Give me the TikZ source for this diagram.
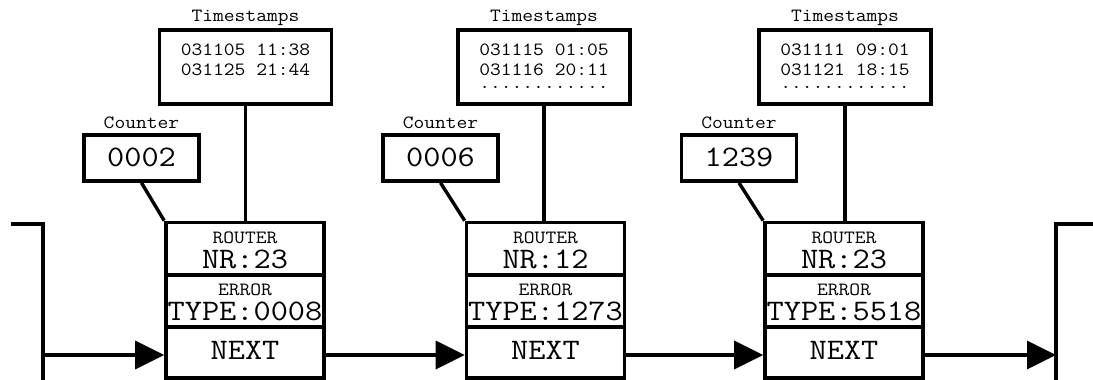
\documentclass[tikz,border=0pt]{standalone}
\usepackage{fontspec}
\setmonofont[FakeStretch=1.12]{Latin Modern Mono}
\usetikzlibrary{arrows.meta}
\newcommand\tsdots{............}
\newcommand\tsnone{}
\begin{document}
\begin{tikzpicture}[x=1pt,y=-1pt,
  box/.style={draw,line width=3.6pt,rectangle,inner sep=0pt,
    minimum width=158pt},
  tsbox/.style={draw,line width=3.6pt,rectangle,inner sep=0pt,
    minimum width=172pt,minimum height=74pt},
  cntbox/.style={draw,line width=3.6pt,rectangle,inner sep=0pt,
    minimum width=115pt,minimum height=46pt},
  small/.style={inner sep=0pt,anchor=base,text height=11.5pt,text depth=0pt,
    font=\ttfamily\fontsize{18.7}{20}\selectfont},
  big/.style={inner sep=0pt,anchor=base,text height=18pt,text depth=0pt,
    font=\ttfamily\fontsize{29.8}{32}\selectfont},
  dotline/.style={small,text height=3pt},
  wire/.style={line width=3.4pt},
  arr/.style={line width=3.4pt,-{Triangle[length=29pt,width=28pt]}}]
\useasboundingbox (0,0) rectangle (1093,380);

% three list elements: router / error / next, counter and timestamps
\foreach \i/\rx/\tx/\cx/\cnt/\nr/\ty/\la/\lb/\lc in {
  1/245/245.5/141.5/0002/23/0008/031105 11:38/031125 21:44/\tsnone,
  2/545.5/544/440.5/0006/12/1273/031115 01:05/031116 20:11/\tsdots,
  3/844/845/739/1239/23/5518/031111 09:01/031121 18:15/\tsdots}{
  % record cells
  \node[box,minimum height=52.5pt] (r\i) at (\rx,248.75) {};
  \node[box,minimum height=52pt]   (e\i) at (\rx,301) {};
  \node[box,minimum height=51pt]   (n\i) at (\rx,352.5) {};
  \node[small] (rl\i) at (\rx,243.3) {ROUTER};
  \node[big]   (rv\i) at (\rx,268.3) {NR:\nr};
  \node[small] (el\i) at (\rx,295) {ERROR};
  \node[big]   (ev\i) at (\rx,320) {TYPE:\ty};
  \node[big]   (nl\i) at (\rx,359) {NEXT};
  % timestamps
  \node[tsbox] (t\i) at (\tx,67) {};
  \node[small] (tl\i) at (\tx,21.7) {Timestamps};
  \node[small] (ta\i) at (\tx,55) {\la};
  \node[small] (tb\i) at (\tx,75.5) {\lb};
  \node[dotline] (tc\i) at (\tx,88.8) {\lc};
  % counter
  \node[cntbox] (c\i) at (\cx,158) {};
  \node[small] (cl\i) at (\cx,128) {Counter};
  \node[big]   (cv\i) at (\cx,166) {\cnt};
  % connectors to the router cell
  \draw[wire] (c\i.south) -- (r\i.north west);
  \draw[wire] (t\i.south) -- (t\i.south |- r\i.north);
}

% list head and tail brackets
\coordinate (lh) at (11,224);
\coordinate (lv) at (43,224);
\coordinate (lb) at (43,380);
\coordinate (la) at (45,355);
\coordinate (rh) at (1093,224);
\coordinate (rv) at (1056,224);
\coordinate (rb) at (1056,380);
\draw[wire] (lh) -- (lv) -- (lb);
\draw[wire] (rh) -- (rv) -- (rb);

% next pointers
\draw[arr] (la) -- (la -| n1.west);
\draw[arr] (n1.east |- la) -- (n2.west |- la);
\draw[arr] (n2.east |- la) -- (n3.west |- la);
\draw[arr] (n3.east |- la) -- (rv |- la);
\end{tikzpicture}
\end{document}
